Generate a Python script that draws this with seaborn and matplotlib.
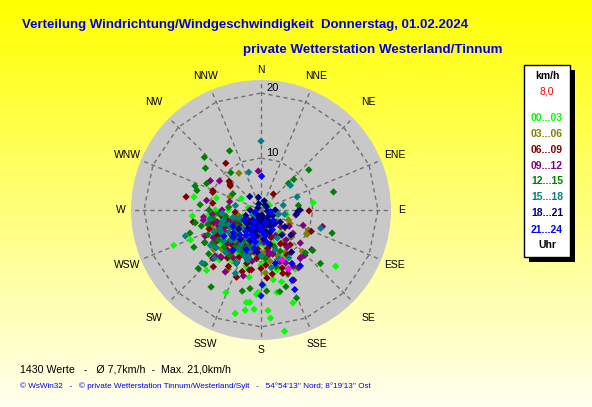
import numpy as np
import pandas as pd
import matplotlib
matplotlib.use('Agg')
import matplotlib.pyplot as plt
import seaborn as sns
from matplotlib.patches import Rectangle

# wind direction (compass degrees) and speed (km/h), one pair of lists per 3-hour block
h00_dir = [169, 175, 176, 184, 189, 194, 189, 187, 203, 183, 182, 169, 161, 164, 170, 158, 178, 222, 248, 247, 265, 281, 285, 82, 127,
           200, 215, 230, 245, 190, 175, 160, 210, 260, 280, 150, 235, 220, 195, 180, 140, 255, 205, 225, 170, 300, 20, 120, 240, 190, 215, 100, 60,
           235, 250, 185, 165, 145, 270, 225, 205,
           205, 220, 240, 230, 215, 200, 250, 225, 210, 195, 235, 245, 260, 185,
           230, 255, 265, 210, 195, 175, 240, 220, 250, 205, 185, 270,
           155, 150, 165, 175]
h00_spd = [21.0, 18.7, 17.5, 17.3, 17.6, 18.4, 16.4, 16.3, 15.8, 15.0, 14.7, 14.9, 17.1, 13.5, 12.9, 12.7, 13.6, 14.5, 16.5, 13.8, 12.6, 12.5, 9.1, 10.1, 16.4,
           8.0, 9.0, 7.0, 8.5, 6.0, 9.0, 7.5, 5.0, 6.0, 4.0, 5.0, 11.0, 12.0, 11.0, 10.5, 6.5, 10.0, 7.0, 6.0, 5.0, 5.5, 3.0, 4.0, 4.5, 12.5, 3.5, 6.0, 3.5,
           9.5, 6.5, 7.5, 11.5, 8.5, 9.0, 10.5, 9.5,
           6.5, 7.5, 6.0, 9.0, 8.0, 4.5, 7.0, 5.0, 9.5, 7.0, 5.5, 9.5, 8.0, 5.5,
           10.0, 8.5, 10.0, 11.0, 8.5, 7.5, 9.5, 5.5, 5.0, 9.5, 6.5, 7.0,
           10.0, 12.5, 11.5, 10.0]

h03_dir = [329, 117, 113, 118, 131, 115, 127, 176, 293, 209,
           200, 160, 140, 230, 250, 185, 215, 175, 125, 110, 205, 240, 265, 190, 150, 135, 220, 160,
           195, 225, 180, 145, 235, 210, 255, 170,
           215, 230, 205, 245, 220, 200, 235, 210, 225, 250, 190, 240,
           215, 235, 245, 225, 200, 260, 190, 205, 230, 175, 250, 220,
           150, 160, 165, 145, 170, 155]
h03_spd = [8.6, 9.9, 9.9, 10.0, 8.3, 6.9, 6.6, 11.7, 7.2, 12.4,
           7.0, 6.0, 7.0, 5.0, 8.0, 9.0, 10.0, 4.0, 5.0, 6.5, 6.0, 7.5, 9.0, 8.0, 9.5, 11.0, 4.0, 3.2,
           5.5, 8.5, 7.0, 8.0, 10.5, 6.5, 5.5, 10.0,
           7.5, 6.5, 8.5, 9.5, 6.0, 5.0, 8.0, 9.0, 10.5, 6.5, 6.0, 4.5,
           8.0, 9.0, 6.0, 7.0, 9.5, 7.5, 5.0, 11.0, 11.5, 8.5, 10.0, 8.5,
           8.0, 9.5, 11.0, 10.0, 8.0, 12.0]

h06_dir = [323, 280, 292, 310, 312, 308, 38, 91, 113, 290, 278, 260, 220, 191, 197, 157, 189, 161, 155,
           215, 225, 230, 205, 200, 235, 245, 250, 190, 185, 210, 220, 180, 170, 240, 255, 195, 160, 150, 265, 140, 230, 200, 215,
           225, 205, 195, 240, 175,
           210, 225, 235, 200, 215, 245, 220, 205, 190, 230, 250, 240,
           220, 235, 245, 205, 255, 215, 195, 225, 260, 185, 240, 210,
           150, 165, 170, 145, 175, 160]
h06_spd = [11.0, 13.7, 10.0, 8.2, 8.6, 8.0, 5.1, 9.4, 10.4, 9.9, 9.5, 12.6, 13.4, 11.4, 11.9, 12.6, 11.3, 12.3, 13.9,
           8.0, 9.5, 11.0, 10.0, 8.5, 7.0, 9.0, 10.5, 7.0, 9.5, 12.0, 6.0, 11.0, 8.0, 12.0, 7.5, 5.0, 6.5, 8.0, 6.0, 9.0, 4.5, 13.0, 5.5,
           7.5, 8.0, 10.0, 9.5, 12.5,
           6.5, 7.5, 9.0, 7.0, 10.0, 7.5, 11.5, 8.0, 8.5, 6.0, 8.5, 10.0,
           9.0, 10.5, 8.0, 9.0, 9.5, 11.0, 10.5, 12.5, 8.0, 8.0, 6.5, 7.5,
           10.0, 9.0, 12.0, 8.5, 10.5, 11.5]

h09_dir = [356, 305, 98, 110, 105, 126, 130, 128, 136, 141, 147, 280, 263, 236, 221, 256, 300,
           200, 220, 240, 250, 230, 210, 190, 175, 165, 150, 140, 120, 260, 270, 285, 195, 225, 205, 180, 235, 245, 155, 130, 215,
           185, 250, 170, 210,
           225, 215, 240, 200, 230, 210, 250, 235, 195, 220, 245, 205,
           225, 240, 255, 205, 215, 230, 195, 265, 185, 245, 220, 250,
           145, 160, 170, 150, 165, 140]
h09_spd = [8.0, 9.8, 7.4, 8.9, 11.8, 8.1, 9.9, 11.9, 11.7, 11.6, 12.6, 10.5, 10.9, 10.8, 11.5, 10.1, 11.0,
           9.0, 10.0, 6.0, 9.0, 8.0, 7.0, 10.0, 7.0, 9.0, 6.5, 8.0, 7.0, 11.0, 8.0, 7.0, 12.5, 12.0, 5.0, 4.0, 4.5, 11.5, 11.0, 6.0, 8.5,
           6.0, 7.5, 8.5, 13.0,
           7.0, 6.0, 8.5, 8.0, 9.5, 10.5, 6.5, 10.0, 7.5, 5.0, 7.5, 11.0,
           9.0, 10.5, 9.0, 8.5, 9.5, 6.5, 9.0, 9.5, 8.5, 8.5, 11.5, 7.0,
           9.0, 10.5, 9.0, 12.0, 7.5, 11.5]

h12_dir = [332, 313, 307, 321, 50, 47, 46, 76, 83, 108, 132, 128, 134, 213, 193, 188, 176, 158, 226, 252, 241, 259, 287, 290, 296, 227, 275, 167, 162,
           215, 235, 250, 225, 200, 260, 240, 205, 190, 180, 270, 275, 220, 245, 160, 300, 230, 210,
           255, 195, 235,
           220, 230, 240, 210, 200, 250, 225, 235, 215, 245, 205, 260,
           225, 240, 255, 205, 215, 230, 195, 265, 245, 210, 235, 250,
           155, 165, 145, 175]
h12_spd = [12.3, 13.9, 12.7, 9.4, 11.6, 8.9, 7.9, 13.5, 7.8, 13.5, 14.3, 12.1, 11.5, 16.1, 14.8, 14.2, 14.5, 16.6, 14.0, 13.5, 13.8, 12.3, 12.3, 12.8, 11.3, 15.2, 11.4, 14.9, 14.4,
           9.0, 10.0, 8.0, 7.0, 8.0, 9.5, 12.0, 11.0, 6.0, 9.0, 10.0, 7.0, 4.5, 5.5, 8.0, 7.0, 12.5, 6.0,
           11.5, 9.5, 6.5,
           8.0, 6.5, 7.0, 7.5, 9.5, 6.0, 10.0, 9.0, 5.0, 9.0, 5.5, 7.5,
           8.5, 9.0, 10.5, 9.0, 10.5, 7.5, 8.0, 8.5, 11.0, 8.5, 11.0, 8.5,
           9.0, 11.0, 12.5, 9.5]

h15_dir = [0, 342, 50, 70, 78, 100, 103, 107, 251, 228, 224, 202,
           210, 230, 245, 220, 190, 200, 255, 265, 180, 170, 150, 235, 215, 240, 280, 195, 160, 130,
           205, 250, 185,
           225, 215, 240, 205, 230, 250, 220, 195, 235, 210, 245, 200,
           225, 240, 255, 210, 230, 215, 195, 260, 245, 205, 185, 235,
           160, 150, 170]
h15_spd = [12.6, 8.1, 7.9, 7.9, 5.5, 5.7, 4.8, 11.6, 14.3, 14.2, 12.3, 12.5,
           8.0, 7.0, 9.0, 10.5, 7.5, 5.0, 6.5, 8.0, 9.0, 6.0, 7.0, 11.5, 4.0, 3.5, 6.0, 10.0, 10.0, 5.0,
           6.5, 8.5, 5.5,
           6.0, 9.5, 7.0, 7.0, 9.5, 5.5, 8.0, 8.5, 5.0, 6.0, 10.0, 9.5,
           8.5, 9.0, 8.0, 9.0, 11.0, 7.5, 9.5, 10.0, 7.5, 11.0, 7.0, 8.0,
           8.5, 10.5, 11.0]

h18_dir = [320, 348, 92, 97, 90, 129, 144,
           170, 145, 202, 158, 304, 90, 39, 270, 122, 180, 190, 210, 225, 135, 160, 115, 195, 230, 175, 140, 200, 250, 215, 130, 185, 60, 20, 340, 100, 165,
           150, 205, 175, 125,
           180, 195, 210, 170, 155, 185, 200, 165, 220, 190,
           175, 190, 205, 215, 160, 150, 195, 225, 140, 185, 235, 200]
h18_spd = [4.7, 4.0, 7.7, 7.5, 8.0, 3.5, 10.0,
           2.8, 3.9, 4.5, 5.7, 2.6, 4.2, 3.0, 3.7, 5.5, 4.0, 6.0, 3.0, 5.0, 5.0, 3.5, 4.0, 3.2, 6.5, 6.5, 7.0, 7.0, 4.5, 7.5, 8.0, 8.5, 3.0, 3.5, 3.0, 3.0, 7.5,
           4.5, 5.5, 5.0, 6.5,
           3.5, 4.0, 4.5, 4.5, 4.0, 5.0, 5.5, 5.5, 4.0, 3.0,
           4.0, 5.0, 5.0, 5.5, 4.5, 5.0, 6.0, 4.5, 4.5, 3.5, 5.0, 4.0]

h21_dir = [1, 180, 157, 156, 179, 145, 150, 165,
           180, 200, 160, 220, 150, 190, 210, 170, 240, 130, 100, 250,
           185, 205, 195, 175, 215, 230,
           210, 225, 190, 240, 200, 170, 235, 215]
h21_spd = [7.2, 15.2, 15.3, 13.8, 13.5, 12.5, 11.5, 10.5,
           5.0, 6.0, 4.0, 7.0, 5.5, 8.0, 4.0, 7.0, 5.0, 4.5, 3.5, 3.0,
           4.5, 5.0, 6.5, 5.5, 6.0, 7.5,
           6.5, 8.0, 7.0, 7.0, 8.5, 6.0, 9.0, 9.5]

now_dir = [157, 155]
now_spd = [10.3, 12.0]

buckets = ['00...03', '03...06', '06...09', '09...12', '12...15', '15...18', '18...21', '21...24']
bucket_colors = ['#00ff00', '#808000', '#800000', '#800080', '#008000', '#008080', '#000080', '#0000ff']
compass = ['N', 'NNE', 'NE', 'ENE', 'E', 'ESE', 'SE', 'SSE',
           'S', 'SSW', 'SW', 'WSW', 'W', 'WNW', 'NW', 'NNW']

n_values = 1430
mean_speed = '7,7'
max_speed = '21,0'
current_speed = '8,0'

dirs = [h00_dir, h03_dir, h06_dir, h09_dir, h12_dir, h15_dir, h18_dir, h21_dir, now_dir]
spds = [h00_spd, h03_spd, h06_spd, h09_spd, h12_spd, h15_spd, h18_spd, h21_spd, now_spd]
labels = buckets + ['jetzt']
frames = [pd.DataFrame({'dir': d, 'spd': s, 'bucket': b}) for d, s, b in zip(dirs, spds, labels)]
df = pd.concat(frames, ignore_index=True)
df['theta'] = np.deg2rad(df['dir'])

palette = dict(zip(buckets, bucket_colors))
palette['jetzt'] = '#ff00ff'

plt.rcParams['font.family'] = ['Liberation Sans', 'DejaVu Sans']

W, H = 592, 407
fig = plt.figure(figsize=(W / 100, H / 100), dpi=100)

# yellow background fading to pale towards the bottom
bg = fig.add_axes([0, 0, 1, 1], zorder=0)
grad = np.ones((256, 1, 3))
grad[:, 0, 2] = np.linspace(0, 240, 256) / 255
bg.imshow(grad, aspect='auto', extent=[0, 1, 0, 1], origin='upper')
bg.axis('off')

R0, RMAX = 2, 22
ax = fig.add_axes([131 / W, 1 - 340 / H, 260 / W, 260 / H], projection='polar', zorder=1)
ax.set_theta_zero_location('N')
ax.set_theta_direction(-1)
ax.set_facecolor('#c8c8c8')
ax.grid(False)
ax.spines['polar'].set_visible(False)

sns.scatterplot(data=df, x='theta', y='spd', hue='bucket', palette=palette,
                hue_order=labels, marker='D', s=14, linewidth=0,
                legend=False, ax=ax, zorder=3)
ax.set_ylim(R0, RMAX)
ax.set_xticks([])
ax.set_yticks([])
ax.set_xlabel('')
ax.set_ylabel('')

# dashed spokes and 16-sided rings
dash = dict(color='#707070', linewidth=1.0, linestyle=(0, (3, 2.5)), zorder=2)
for i in range(16):
    t = np.deg2rad(i * 22.5)
    ax.plot([t, t], [R0, RMAX], **dash)
ring_t = np.deg2rad(np.arange(0, 361, 22.5))
for rv in (10, 20):
    ax.plot(ring_t, np.full(len(ring_t), rv), **dash)

for i, name in enumerate(compass):
    r = 23.6 if i % 4 == 0 else (25.4 if i % 2 == 0 else 24.3)
    ax.text(np.deg2rad(i * 22.5), r, name, ha='center', va='center',
            fontsize=7.5, color='black', clip_on=False)
for rv in (10, 20):
    ax.annotate(str(rv), xy=(0, rv), xytext=(5, 0), textcoords='offset pixels',
                ha='left', va='bottom', fontsize=8, color='black', zorder=4)


def px(x, y):
    return x / W, 1 - y / H


title = fig.text(*px(22, 25), 'Verteilung Windrichtung/Windgeschwindigkeit  Donnerstag, 01.02.2024',
                 ha='left', va='center', color='#0000ee', fontweight='bold', fontsize=9)
subtitle = fig.text(*px(243, 50), 'private Wetterstation Westerland/Tinnum',
                    ha='left', va='center', color='#0000ee', fontweight='bold', fontsize=9)
stats = fig.text(*px(20, 369), f'{n_values} Werte   -   Ø {mean_speed}km/h  -  Max. {max_speed}km/h',
                 ha='left', va='center', color='black', fontsize=8)
footer = fig.text(*px(20, 386), '© WsWin32   -   © private Wetterstation Tinnum/Westerland/Sylt   -   '
                  "54°54'13'' Nord; 8°19'13'' Ost",
                  ha='left', va='center', color='#0000ee', fontsize=6.5)

# legend box with drop shadow
fig.add_artist(Rectangle((529 / W, 1 - 262 / H), 46 / W, 192 / H, transform=fig.transFigure,
                         facecolor='black', edgecolor='none', zorder=5))
fig.add_artist(Rectangle((524 / W, 1 - 257 / H), 46 / W, 192 / H, transform=fig.transFigure,
                         facecolor='white', edgecolor='black', lw=1, zorder=6))
fig.text(*px(547, 76), 'km/h', ha='center', va='center', fontweight='bold', fontsize=7.5, zorder=7)
fig.text(*px(547, 91), current_speed, ha='center', va='center', color='red', fontsize=7.5, zorder=7)
leg_y = [118, 134, 150, 166, 181, 197, 213, 230]
for b, c, y in zip(buckets, bucket_colors, leg_y):
    fig.text(*px(547, y), b, ha='center', va='center', color=c, fontweight='bold', fontsize=7.5, zorder=7)
fig.text(*px(547, 245), 'Uhr', ha='center', va='center', fontweight='bold', fontsize=7.5, zorder=7)

# scale the header/footer texts to the widths they have in the original
fig.canvas.draw()
renderer = fig.canvas.get_renderer()
for t, width in [(title, 445), (subtitle, 259), (stats, 212), (footer, 350)]:
    bb = t.get_window_extent(renderer)
    t.set_fontsize(t.get_fontsize() * width / bb.width)

fig.savefig('out.png', dpi=100)
